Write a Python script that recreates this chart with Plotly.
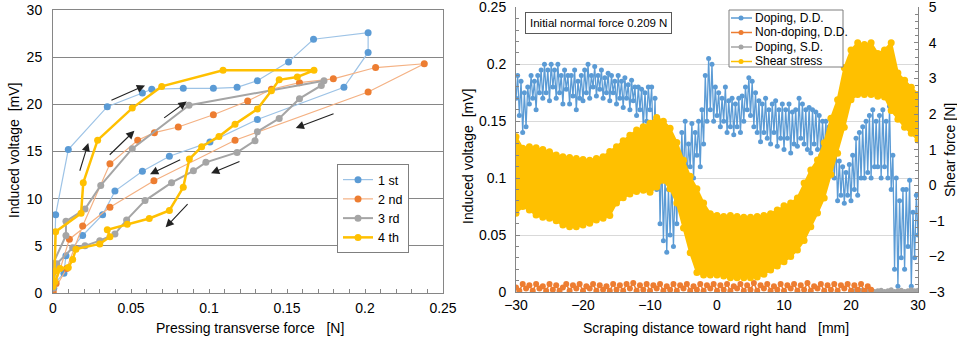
import plotly.graph_objects as go

W, H = 957, 339

# ---------------- Left chart data ----------------
s1_x = [0.0005, 0.0017, 0.0098, 0.0348, 0.0573, 0.0633, 0.0835, 0.1028, 0.118, 0.131, 0.151, 0.167, 0.202, 0.202,
        0.1865, 0.131, 0.1006, 0.0746, 0.0573, 0.0397, 0.0318, 0.019, 0.0083, 0.007, 0.001]
s1_y = [0.5, 8.3, 15.2, 19.75, 21.2, 21.6, 21.7, 21.7, 21.8, 22.5, 24.5, 26.9, 27.6, 25.5,
        21.8, 18.4, 16.0, 14.5, 12.9, 10.8, 8.3, 6.1, 3.95, 2.1, 1.0]

s2_x = [0, 0.0088, 0.019, 0.0365, 0.0543, 0.065, 0.0803, 0.1028, 0.1248, 0.140, 0.158, 0.1797, 0.2068, 0.238,
        0.202, 0.1167, 0.0647, 0.0365, 0.0105, 0.002, 0]
s2_y = [0.1, 2.6, 7.1, 13.7, 16.2, 17.0, 17.6, 18.9, 20.35, 21.6, 22.3, 22.7, 23.9, 24.3,
        21.3, 16.2, 11.9, 9.1, 5.7, 1.0, 0.1]

s3_x = [0, 0, 0.0083, 0.0083, 0.0205, 0.0306, 0.0508, 0.0872, 0.1737, 0.172, 0.158, 0.145, 0.131, 0.1295,
        0.118, 0.098, 0.090, 0.076, 0.059, 0.0472, 0.0397, 0.030, 0.0205, 0.0126, 0.0024, 0]
s3_y = [0.5, 3.1, 6.1, 7.6, 8.9, 11.4, 15.3, 19.9, 22.5, 22.0, 20.6, 18.5, 17.1, 16.15,
        14.9, 13.85, 12.95, 11.7, 9.8, 7.75, 6.25, 5.55, 5.0, 4.8, 3.1, 0.7]

s4_x = [0, 0.001, 0.0017, 0.018, 0.0194, 0.0286, 0.0508, 0.0697, 0.109, 0.1673, 0.1566, 0.145, 0.140, 0.131,
        0.1167, 0.1064, 0.0953, 0.0874, 0.0835, 0.0746, 0.0617, 0.0476, 0.0348, 0.0365, 0.030, 0.0147,
        0.0126, 0.0098, 0.0045, 0.0013, 0]
s4_y = [1.0, 2.3, 6.5, 8.45, 11.7, 16.2, 19.6, 21.9, 23.6, 23.6, 22.9, 22.6, 21.45, 19.5,
        17.9, 16.6, 15.5, 14.2, 11.2, 8.75, 7.9, 7.3, 6.7, 5.95, 5.2, 4.65,
        3.55, 2.7, 2.6, 1.2, 0.7]

left_names = ["1 st", "2 nd", "3 rd", "4 th"]

# arrows (tail x, tail y, head x, head y)
arrows = [
    (0.0365, 20.35, 0.059, 22.0),
    (0.0703, 18.45, 0.0857, 20.3),
    (0.0354, 14.5, 0.0522, 17.2),
    (0.0169, 12.8, 0.0226, 15.9),
    (0.1808, 19.05, 0.1556, 17.5),
    (0.1205, 14.0, 0.1013, 12.7),
    (0.0825, 14.2, 0.0622, 12.6),
    (0.0872, 9.57, 0.0722, 6.96),
]

# ---------------- Right chart data ----------------
blue_x = [-30 + 0.25 * i for i in range(241)]
blue_y = [
    0.17, 0.19, 0.155, 0.185, 0.14, 0.175, 0.145, 0.18,
    0.165, 0.19, 0.17, 0.185, 0.16, 0.19, 0.175, 0.195,
    0.17, 0.2, 0.175, 0.195, 0.168, 0.2, 0.18, 0.195,
    0.17, 0.2, 0.175, 0.19, 0.165, 0.195, 0.178, 0.19,
    0.165, 0.19, 0.172, 0.195, 0.16, 0.185, 0.17, 0.19,
    0.168, 0.195, 0.175, 0.2, 0.17, 0.19, 0.18, 0.198,
    0.172, 0.19, 0.178, 0.195, 0.17, 0.188, 0.175, 0.192,
    0.168, 0.19, 0.175, 0.185, 0.165, 0.19, 0.17, 0.185,
    0.162, 0.188, 0.17, 0.182, 0.16, 0.186, 0.168, 0.18,
    0.155, 0.18, 0.16, 0.178, 0.145, 0.175, 0.15, 0.18,
    0.16, 0.18, 0.12, 0.17, 0.09, 0.15, 0.06, 0.12,
    0.045, 0.1, 0.035, 0.09, 0.05, 0.1, 0.04, 0.095,
    0.06, 0.12, 0.09, 0.14, 0.1, 0.15, 0.095, 0.13,
    0.11, 0.148, 0.1, 0.14, 0.12, 0.15, 0.11, 0.16,
    0.13, 0.19, 0.15, 0.205, 0.16, 0.2, 0.15, 0.18,
    0.155, 0.175, 0.145, 0.17, 0.15, 0.18, 0.14, 0.168,
    0.145, 0.17, 0.138, 0.165, 0.145, 0.17, 0.14, 0.172,
    0.15, 0.18, 0.16, 0.188, 0.155, 0.185, 0.145, 0.175,
    0.14, 0.168, 0.132, 0.165, 0.14, 0.17, 0.135, 0.16,
    0.13, 0.165, 0.14, 0.168, 0.128, 0.16, 0.135, 0.165,
    0.125, 0.16, 0.135, 0.165, 0.122, 0.158, 0.13, 0.16,
    0.128, 0.17, 0.135, 0.165, 0.13, 0.16, 0.125, 0.162,
    0.122, 0.16, 0.13, 0.158, 0.125, 0.155, 0.12, 0.15,
    0.12, 0.15, 0.115, 0.145, 0.11, 0.14, 0.1, 0.13,
    0.08, 0.115, 0.085, 0.11, 0.078, 0.105, 0.085, 0.112,
    0.08, 0.12, 0.09, 0.135, 0.085, 0.14, 0.1, 0.145,
    0.1, 0.15, 0.105, 0.155, 0.1, 0.16, 0.11, 0.15,
    0.11, 0.155, 0.1, 0.16, 0.11, 0.15, 0.1, 0.163,
    0.09, 0.12, 0.02, 0.1, 0.005, 0.08, 0.03, 0.09,
    0.02, 0.09, 0.04, 0.098, 0.005, 0.07, 0.03, 0.085,
    0.05,
]

orange_x = [-30 + 0.5 * i for i in range(107)]
orange_y = [
    0.004, 0.001, 0.007, 0.003, 0.006, 0.001, 0.007, 0.003, 0.005, 0.001,
    0.007, 0.002, 0.006, 0.001, 0.004, 0.007, 0.001, 0.006, 0.003, 0.007,
    0.001, 0.005, 0.003, 0.007, 0.001, 0.006, 0.002, 0.005, 0.001, 0.007,
    0.002, 0.006, 0.001, 0.007, 0.003, 0.008, 0.001, 0.006, 0.002, 0.007,
    0.001, 0.006, 0.003, 0.007, 0.001, 0.005, 0.002, 0.007, 0.001, 0.006,
    0.003, 0.007, 0.001, 0.005, 0.002, 0.007, 0.001, 0.006, 0.003, 0.007,
    0.001, 0.006, 0.002, 0.007, 0.001, 0.005, 0.003, 0.007, 0.001, 0.006,
    0.002, 0.008, 0.001, 0.006, 0.003, 0.007, 0.001, 0.005, 0.002, 0.007,
    0.001, 0.006, 0.003, 0.007, 0.001, 0.006, 0.002, 0.008, 0.001, 0.005,
    0.003, 0.007, 0.001, 0.006, 0.002, 0.007, 0.001, 0.006, 0.003, 0.007,
    0.001, 0.006, 0.002, 0.007, 0.001, 0.005, 0.002,
]

gray_x = [20.5 + 0.5 * i for i in range(20)]
gray_y = [0.001, 0.0005, 0.0015, 0.0005, 0.001, 0.002, 0.0005, 0.001, 0.0015, 0.0005,
          0.001, 0.002, 0.0005, 0.001, 0.0015, 0.0005, 0.001, 0.002, 0.001, 0.0015]

shear_x = list(range(-30, 31))
shear_upper = [1.36, 1.04, 1.08, 1.05, 1.0, 0.94, 0.85, 0.8, 0.78, 0.75,
               0.72, 0.7, 0.75, 0.8, 0.95, 1.08, 1.25, 1.4, 1.55, 1.64,
               1.74, 1.9, 1.8, 1.6, 1.2, 0.7, 0.25, -0.1, -0.5, -0.8,
               -0.85, -0.88, -0.85, -0.88, -0.9, -0.9, -0.88, -0.85, -0.8, -0.7,
               -0.58, -0.5, -0.36, 0.06, 0.43, 0.71, 1.19, 1.88, 2.4, 3.3,
               3.8, 4.0, 3.95, 4.0, 3.7, 3.8, 4.0, 3.15, 2.95, 2.75, 2.55]
shear_lower = [-0.79, -0.6, -0.7, -0.84, -0.9, -0.93, -1.0, -1.12, -1.17, -1.17,
               -1.12, -1.07, -0.98, -0.93, -0.85, -0.5, -0.35, -0.25, -0.18, -0.14,
               -0.2, -0.05, 0.14, -0.1, -0.5, -1.2, -1.9, -2.45, -2.52, -2.52,
               -2.52, -2.55, -2.6, -2.6, -2.6, -2.6, -2.58, -2.5, -2.38, -2.27,
               -2.15, -2.0, -1.82, -1.55, -1.17, -0.78, -0.36, 0.3, 0.9, 1.63,
               2.4, 2.55, 2.55, 2.55, 2.5, 2.48, 2.1, 1.85, 1.63, 1.46, 1.27]

right_names = ["Doping, D.D.", "Non-doping, D.D.", "Doping, S.D.", "Shear stress"]

# ---------------- Figure ----------------
FONT = "Liberation Sans, Arial, sans-serif"
BLUE, ORANGE, GRAY, GOLD = "#5B9BD5", "#ED7D31", "#A5A5A5", "#FFC000"
right_colors = [BLUE, ORANGE, GRAY, GOLD]

fig = go.Figure()

left_styles = [
    dict(line=dict(color="#9DC3E6", width=1.2), marker=dict(color=BLUE, size=7)),
    dict(line=dict(color="#F4B183", width=1.2), marker=dict(color=ORANGE, size=7)),
    dict(line=dict(color=GRAY, width=2), marker=dict(color=GRAY, size=7)),
    dict(line=dict(color=GOLD, width=2.5), marker=dict(color=GOLD, size=7)),
]
for (xs, ys), name, st in zip([(s1_x, s1_y), (s2_x, s2_y), (s3_x, s3_y), (s4_x, s4_y)], left_names, left_styles):
    fig.add_trace(go.Scatter(x=xs, y=ys, name=name, mode="lines+markers", xaxis="x", yaxis="y", **st))

# right chart
fig.add_trace(go.Scatter(x=blue_x, y=blue_y, name=right_names[0], mode="lines+markers",
                         line=dict(color=BLUE, width=1.3), marker=dict(color=BLUE, size=5),
                         xaxis="x2", yaxis="y2", showlegend=False))
fig.add_trace(go.Scatter(x=gray_x, y=gray_y, name=right_names[2], mode="lines+markers",
                         line=dict(color=GRAY, width=1.5), marker=dict(color=GRAY, size=5),
                         xaxis="x2", yaxis="y2", showlegend=False))
fig.add_trace(go.Scatter(x=orange_x, y=orange_y, name=right_names[1], mode="lines+markers",
                         line=dict(color=ORANGE, width=1.5), marker=dict(color=ORANGE, size=6),
                         xaxis="x2", yaxis="y2", showlegend=False))
fig.add_trace(go.Scatter(x=shear_x, y=shear_lower, mode="lines+markers", showlegend=False,
                         line=dict(color=GOLD, width=2), marker=dict(color=GOLD, size=7),
                         xaxis="x2", yaxis="y3"))
fig.add_trace(go.Scatter(x=shear_x, y=shear_upper, name=right_names[3], mode="lines+markers",
                         fill="tonexty", fillcolor=GOLD,
                         line=dict(color=GOLD, width=2), marker=dict(color=GOLD, size=7),
                         xaxis="x2", yaxis="y3", showlegend=False))

def px(x):
    return x / W

def py(y):
    return 1 - y / H

tickfont = dict(family=FONT, size=14, color="#000")
fig.update_layout(
    width=W, height=H, margin=dict(l=0, r=0, t=0, b=0, autoexpand=False),
    paper_bgcolor="white", plot_bgcolor="white",
    font=dict(family=FONT, color="#000"),
    xaxis=dict(domain=[px(53), px(443)], anchor="y", range=[0, 0.25], dtick=0.05,
               tickformat="~g", showgrid=False, zeroline=False,
               showline=True, linecolor="#868686", linewidth=1, mirror=True,
               ticks="inside", ticklen=4, tickcolor="#868686",
               minor=dict(dtick=0.01, ticks="inside", ticklen=4, tickcolor="#868686"),
               tickfont=tickfont, ticklabelstandoff=2, ticklabeloverflow="allow"),
    yaxis=dict(domain=[py(293), py(10)], anchor="x", range=[0, 30], dtick=5,
               showgrid=True, gridcolor="#868686", gridwidth=1.3, zeroline=False,
               showline=True, linecolor="#868686", linewidth=1, mirror=True,
               ticks="", tickfont=tickfont, ticklabelstandoff=7, ticklabeloverflow="allow"),
    xaxis2=dict(domain=[px(516), px(918)], anchor="y2", range=[-30, 30], dtick=10,
                showgrid=False, zeroline=False, showline=True, linecolor="#868686",
                ticks="", tickfont=tickfont, ticklabeloverflow="allow"),
    yaxis2=dict(domain=[py(292), py(7)], anchor="x2", range=[0, 0.2502], dtick=0.05,
                tickformat="~g", showgrid=True, gridcolor="#D9D9D9", gridwidth=1, zeroline=False,
                showline=True, linecolor="#868686", ticks="inside", ticklen=4, tickcolor="#868686",
                minor=dict(dtick=0.01, ticks="inside", ticklen=3, tickcolor="#868686"),
                tickfont=tickfont, ticklabelstandoff=6, ticklabeloverflow="allow"),
    yaxis3=dict(overlaying="y2", anchor="x2", side="right", range=[-3, 5.006], dtick=1,
                showgrid=False, zeroline=False, showline=True, linecolor="#868686",
                ticks="inside", ticklen=4, tickcolor="#868686",
                minor=dict(dtick=0.2, ticks="inside", ticklen=3, tickcolor="#868686"),
                tickfont=tickfont, ticklabelstandoff=7, ticklabeloverflow="allow"),
    legend=dict(x=px(337), y=py(164), xanchor="left", yanchor="top", bgcolor="white",
                bordercolor="#7F7F7F", borderwidth=1, font=dict(family=FONT, size=12.5),
                tracegroupgap=0, itemwidth=30, traceorder="normal"),
    showlegend=True,
)

anns = []
for tx, ty, hx, hy in arrows:
    anns.append(dict(x=hx, y=hy, ax=tx, ay=ty, xref="x", yref="y", axref="x", ayref="y",
                     showarrow=True, arrowhead=2, arrowsize=1.5, arrowwidth=1.1,
                     arrowcolor="#222", text=""))

def title(text, x, y, angle=0, size=14):
    return dict(text=text, x=px(x), y=py(y), xref="paper", yref="paper", xanchor="center",
                yanchor="middle", showarrow=False, textangle=angle, font=dict(family=FONT, size=size))

anns += [
    title("Induced voltage  [mV]", 14, 151, -90),
    title("Pressing transverse force   [N]", 250, 328),
    title("Induced voltage  [mV]", 468, 157, -90),
    title("Shear force [N]", 950, 150, -90),
    title("Scraping distance toward right hand   [mm]", 716, 328),
    dict(text="Initial normal force 0.209 N", x=px(598), y=py(23), xref="paper", yref="paper",
         xanchor="center", yanchor="middle",
         showarrow=False, font=dict(family=FONT, size=11.5), bgcolor="white",
         bordercolor="#595959", borderwidth=1, borderpad=4),
]

# right-chart legend (compact, drawn as shapes + text)
shapes = [dict(type="rect", xref="paper", yref="paper", x0=px(729), x1=px(843), y0=py(67), y1=py(10),
               line=dict(color="#7F7F7F", width=1), fillcolor="white", layer="above")]
rows = [18, 32.5, 47, 61.5]
for name, col, ry in zip(right_names, right_colors, rows):
    shapes.append(dict(type="line", xref="paper", yref="paper", x0=px(731), x1=px(752),
                       y0=py(ry), y1=py(ry), line=dict(color=col, width=1.5), layer="above"))
    shapes.append(dict(type="circle", xref="paper", yref="paper", x0=px(738.5), x1=px(743.5),
                       y0=py(ry + 2.5), y1=py(ry - 2.5), line=dict(color=col, width=0),
                       fillcolor=col, layer="above"))
    anns.append(dict(text=name, x=px(753), y=py(ry), xref="paper", yref="paper", xanchor="left",
                     yanchor="middle", showarrow=False, font=dict(family=FONT, size=12)))

fig.update_layout(annotations=anns, shapes=shapes)

fig.write_html("out.html", config={"displayModeBar": False},
               post_script="document.body.style.margin='0';document.body.style.overflow='hidden';")
